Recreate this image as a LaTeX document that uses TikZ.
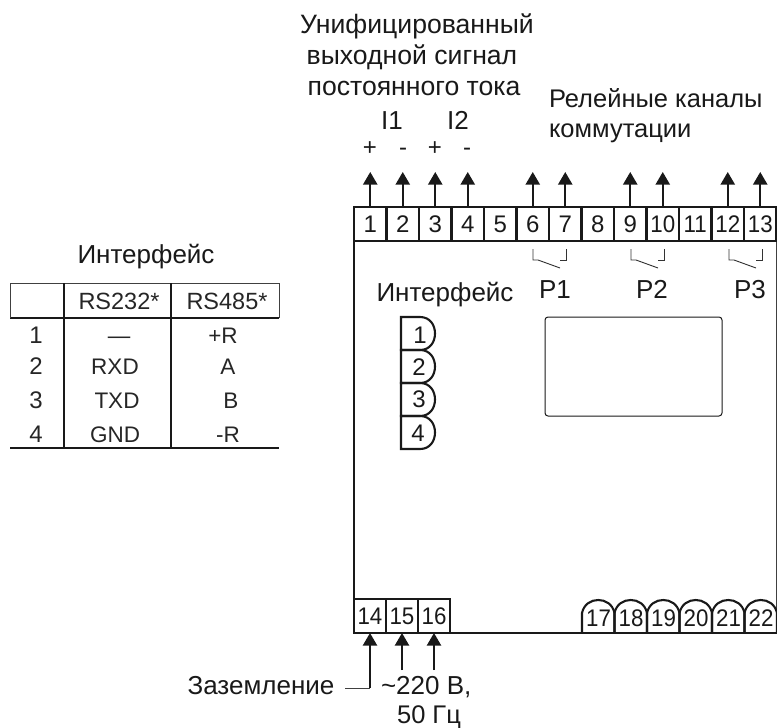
\documentclass[tikz,border=0pt]{standalone}
\usepackage{fontspec}
\setmainfont{Liberation Sans}
\usetikzlibrary{arrows.meta,calc}
\newcommand\termnum[1]{\ifnum#1>9 \scalebox{.93}[1]{\fontsize{24}{28}\selectfont #1}\else\fontsize{24}{28}\selectfont #1\fi}
\tikzset{
 lbl/.style={inner sep=0pt,outer sep=0pt,text=black!90,font=\fontsize{26}{30}\selectfont,anchor=base},
 lbltop/.style={lbl,font=\fontsize{26.6}{30}\selectfont},
 lblw/.style={lbl,anchor=base west,font=\fontsize{25.5}{30}\selectfont},
 dig/.style={lbl},
 idig/.style={lbl,font=\fontsize{24}{28}\selectfont},
 cell/.style={draw=black!90,line width=2.1pt,minimum width=32.5pt,minimum height=34pt,inner sep=0pt,outer sep=0pt,text=black!90,anchor=center},
 wire/.style={draw=black!90,line width=2pt,-{Triangle[length=12.5pt,width=14pt]}},
 thin wire/.style={draw=black!80,line width=0.9pt},
 body/.style={draw=black!90,line width=2.1pt},
 tline/.style={draw=black!75,line width=0.9pt},
 tdark/.style={draw=black!90,line width=1.2pt},
 tcell/.style={inner sep=0pt,outer sep=0pt,text=black!85,font=\fontsize{22.5}{26}\selectfont,anchor=base},
 tnum/.style={tcell,font=\fontsize{24}{28}\selectfont},
 thead/.style={tcell,font=\fontsize{23.5}{27}\selectfont},
}
\begin{document}
\begin{tikzpicture}[x=1pt,y=-1pt]
\useasboundingbox (0,0) rectangle (777,728);
% body
\draw[body] (354,207) -- (354,633) -- (777,633);
\draw[tline] (776.5,207) -- (776.5,633);
% upper terminals
\foreach \n in {1,...,13}{
  \node[cell] (t\n) at ({354+32.5*(\n-0.5)},224) {\termnum{\n}};
}
% lower terminals
\foreach \n/\i in {14/0,15/1,16/2}{
  \node[cell,minimum width=32pt] (t\n) at ({370+32*\i},616) {\termnum{\n}};
}
% arched terminals
\foreach \n/\i in {17/0,18/1,19/2,20/3,21/4,22/5}{
  \pgfmathsetmacro{\xa}{582+32.5*\i}
  \draw[body] (\xa,633) -- (\xa,613) .. controls (\xa+2,604) and (\xa+9,600) .. (\xa+16.25,600)
     .. controls (\xa+23.5,600) and (\xa+30.5,604) .. (\xa+32.5,613) -- (\xa+32.5,633);
  \node[dig] (t\n) at (\xa+16.5,626) {\termnum{\n}};
}
% outgoing arrows
\foreach \n in {1,2,3,4,6,7,9,10,12,13}{
  \coordinate (a\n) at ($(t\n.north)+(0,-35)$);
  \draw[wire] (t\n.north) -- (a\n);
}
% bottom arrows
\coordinate (e14) at (370,688);
\coordinate (e15) at (402,670);
\coordinate (e16) at (434,670);
\draw[wire] (e14) -- (t14.south);
\draw[wire] (e15) -- (t15.south);
\draw[wire] (e16) -- (t16.south);
% relay contacts
\foreach \k/\dx in {1/0,2/98,3/196}{
  \begin{scope}[xshift=\dx pt]
   \draw[thin wire] (533,249) -- (533,260) -- (538,260) -- (560,268);
   \draw[thin wire] (566,249) -- (566,260) -- (560,260);
  \end{scope}
}
% display
\node[draw=black!90,line width=1pt,rounded corners=3pt,minimum width=177pt,minimum height=99pt,inner sep=0pt,outer sep=0pt] (disp) at (633.5,366.5) {};
% interface terminals
\foreach \n/\yy/\bl/\cx in {1/317/343/420,2/350/375/419,3/383/407/419,4/416/441/418}{
  \draw[body] (401,\yy) -- (420,\yy) .. controls (430,\yy) and (435,\yy+8) .. (435,\yy+16.5)
    .. controls (435,\yy+25) and (430,\yy+33) .. (420,\yy+33) -- (401,\yy+33) -- cycle;
  \node[idig] (i\n) at (\cx,\bl) {\n};
}
% top labels
\node[lbltop] (ua) at (417,34) {Унифицированный};
\node[lbltop] (ub) at (412,64) {выходной сигнал};
\node[lbltop] (uc) at (414,95) {постоянного тока};
\node[lbl] (li1) at (392,129) {I1};
\node[lbl] (li2) at (458,129) {I2};
\node[idig] (p1) at (370,155) {+};
\node[idig] (m1) at (403,155) {-};
\node[idig] (p2) at (435,155) {+};
\node[idig] (m2) at (467,155) {-};
\node[lblw] (ra) at (549,107) {Релейные каналы};
\node[lblw] (rb) at (549,137) {коммутации};
\node[lbl] (if) at (445,301) {Интерфейс};
\node[lbl] (P1) at (555,298) {P1};
\node[lbl] (P2) at (652,298) {P2};
\node[lbl] (P3) at (750,298) {P3};
% bottom labels
\node[lbl] (gnd) at (261,694) {Заземление};
\node[lbl,anchor=base west] (vac) at (381,694) {\char"007E 220 В,};
\node[lbl,font=\fontsize{25.5}{30}\selectfont] (hz) at (429,723) {50 Гц};
\coordinate (g0) at (345,688);
\draw[tline] (g0) -- (e14);
% table
\node[lbl] (th) at (146,263) {Интерфейс};
\draw[tline] (10,283) -- (279,283);
\draw[tdark] (10,318) -- (279,318);
\draw[tdark] (10,448) -- (279,448);
\draw[tline] (10,283) -- (10,318);
\draw[tline] (279,283) -- (279,318);
\draw[tdark] (64,283) -- (64,448);
\draw[tdark] (171,283) -- (171,448);
\node[thead] (h1) at (119,309) {RS232*};
\node[thead] (h2) at (227,309) {RS485*};
\node[tnum] (r1) at (36,343) {1};
\node[tnum] (r2) at (36,374) {2};
\node[tnum] (r3) at (36,408) {3};
\node[tnum] (r4) at (36,442) {4};
\node[tcell] (c1) at (119,343) {—};
\node[tcell] (c2) at (115,374) {RXD};
\node[tcell] (c3) at (117,408) {TXD};
\node[tcell] (c4) at (115,442) {GND};
\node[tcell] (d1) at (223,343) {+R};
\node[tcell] (d2) at (228,374) {A};
\node[tcell] (d3) at (231,408) {B};
\node[tcell] (d4) at (228,442) {-R};
\end{tikzpicture}
\end{document}
